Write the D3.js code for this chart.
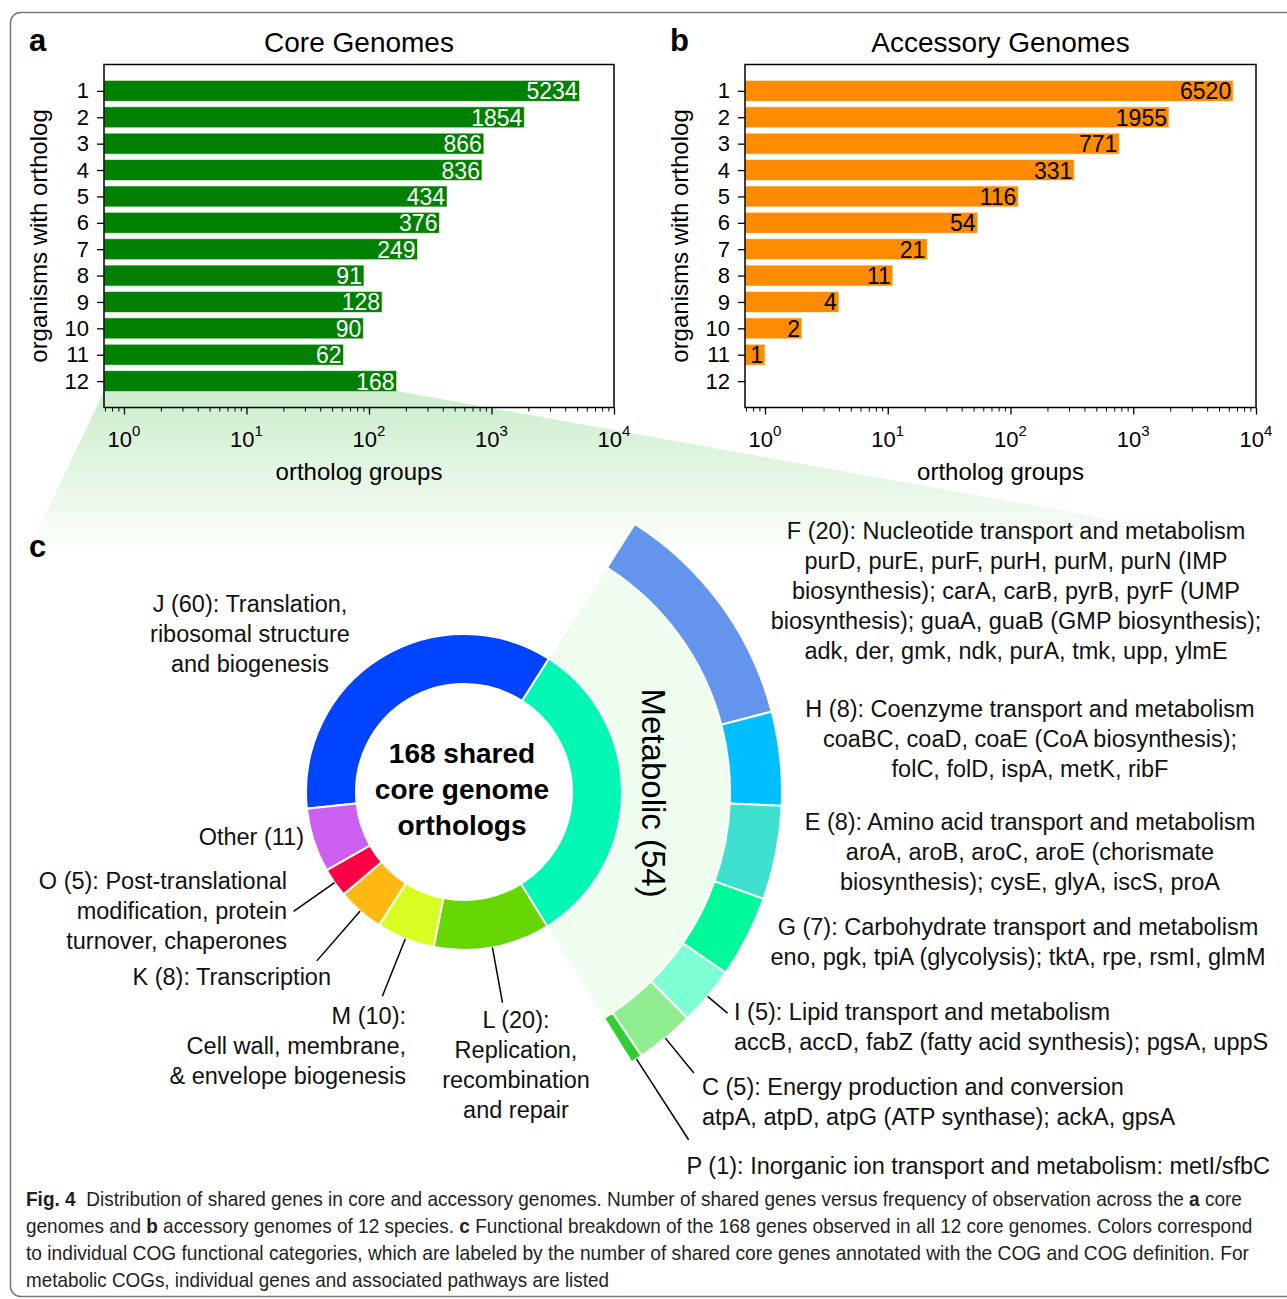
<!DOCTYPE html>
<html><head><meta charset="utf-8">
<script src="https://cdn.jsdelivr.net/npm/d3@7"></script>
<style>
body{margin:0;background:#fff}
svg{display:block}
text{font-family:"Liberation Sans",Arial,Helvetica,sans-serif}
</style>
</head><body>
<svg id="fig" width="1287" height="1299"></svg>
<script>
// ---------------- DATA ----------------
const organisms = [1,2,3,4,5,6,7,8,9,10,11,12];
const coreCounts = [5234,1854,866,836,434,376,249,91,128,90,62,168];
const accessoryCounts = [6520,1955,771,331,116,54,21,11,4,2,1,0];
const xTickExponents = [0,1,2,3,4];

const cogCategories = ["J","Metabolic","L","M","K","O","Other"];
const cogCounts = [60,54,20,10,8,5,11];
const cogColors = ["#0044ff","#00f8b4","#66d600","#d8fd22","#ffb911","#ff0044","#cc5ef0"];

const metabolicCategories = ["F","H","E","G","I","C","P"];
const metabolicCounts = [20,8,8,7,5,5,1];
const metabolicColors = ["#6495ed","#00bfff","#40e0d0","#00fa9a","#7fffd4","#90ee90","#32cd32"];

const cogLabels = {
  J: ["J (60): Translation,","ribosomal structure","and biogenesis"],
  Other: ["Other (11)"],
  O: ["O (5): Post-translational","modification, protein","turnover, chaperones"],
  K: ["K (8): Transcription"],
  M: ["M (10):","Cell wall, membrane,","& envelope biogenesis"],
  L: ["L (20):","Replication,","recombination","and repair"],
  F: ["F (20): Nucleotide transport and metabolism","purD, purE, purF, purH, purM, purN (IMP","biosynthesis); carA, carB, pyrB, pyrF (UMP","biosynthesis); guaA, guaB (GMP biosynthesis);","adk, der, gmk, ndk, purA, tmk, upp, ylmE"],
  H: ["H (8): Coenzyme transport and metabolism","coaBC, coaD, coaE (CoA biosynthesis);","folC, folD, ispA, metK, ribF"],
  E: ["E (8): Amino acid transport and metabolism","aroA, aroB, aroC, aroE (chorismate","biosynthesis); cysE, glyA, iscS, proA"],
  G: ["G (7): Carbohydrate transport and metabolism","eno, pgk, tpiA (glycolysis); tktA, rpe, rsmI, glmM"],
  I: ["I (5): Lipid transport and metabolism","accB, accD, fabZ (fatty acid synthesis); pgsA, uppS"],
  C: ["C (5): Energy production and conversion","atpA, atpD, atpG (ATP synthase); ackA, gpsA"],
  P: ["P (1): Inorganic ion transport and metabolism: metI/sfbC"]
};

// ---------------- LAYOUT ----------------
const FONT = '"Liberation Sans",Arial,Helvetica,sans-serif';
const svg = d3.select("#fig");
const plotTop = 64.5, plotBottom = 407.5;
const cx = 464, cy = 792;
const rIn = 108, rOut = 158, rMetIn = 266, rMetOut = 318;
// label placement: [anchor, x, first baseline y, leader end radius or null]
const labelLayout = {
  J:["middle",250,612,null], Other:["end",304,845,null], O:["end",287,889,208],
  K:["end",331,985,224], M:["end",406,1024,220], L:["middle",516,1028,214],
  F:["middle",1016,539,null], H:["middle",1030,717,null], E:["middle",1030,830,null],
  G:["middle",1018,935,null], I:["start",734,1020,344], C:["start",702,1095,363],
  P:["end",1270,1174,414]
};

// outer border
svg.append("rect").attr("x",10.5).attr("y",12.5).attr("width",1300).attr("height",1284)
  .attr("rx",10).attr("fill","none").attr("stroke","#777").attr("stroke-width",1.5);

// ---------------- PANELS a / b ----------------
const panels = [
  {counts:coreCounts, fill:"#008000", txt:"#fff", left:104, right:614, title:"Core Genomes", letter:"a", letterX:29},
  {counts:accessoryCounts, fill:"#ff8c00", txt:"#000", left:745, right:1256, title:"Accessory Genomes", letter:"b", letterX:670}
];
const xDomain = [Math.pow(10,-0.163), 1e4];
const yScale = d3.scaleLinear().domain([0,13]).range([plotTop, plotBottom]);

// zoom wedge (from bar 12 of core to panel c)
const xCore = d3.scaleLog().domain(xDomain).range([panels[0].left, panels[0].right]);
const defs = svg.append("defs");
const grad = defs.append("linearGradient").attr("id","wedgeGrad").attr("gradientUnits","userSpaceOnUse")
  .attr("x1",0).attr("y1",391).attr("x2",0).attr("y2",551);
grad.append("stop").attr("offset",0).attr("stop-color","#cbedcb");
grad.append("stop").attr("offset",0.75).attr("stop-color","#effaef");
grad.append("stop").attr("offset",1).attr("stop-color","#ffffff");
const wTopY = yScale(12)+10;
const wRight = xCore(coreCounts[11]);
svg.append("path")
  .attr("d", `M${panels[0].left},${wTopY} L${wRight},${wTopY} L1287,551 L28,551 Z`)
  .attr("fill","url(#wedgeGrad)");

panels.forEach(p => {
  const x = d3.scaleLog().domain(xDomain).range([p.left, p.right]);
  const g = svg.append("g");
  const data = organisms.map((o,i)=>({o, v:p.counts[i]})).filter(d=>d.v>0);
  g.selectAll("rect.bar").data(data).join("rect").attr("class","bar")
    .attr("x",p.left).attr("y",d=>yScale(d.o)-10.5).attr("width",d=>x(d.v)-p.left).attr("height",21)
    .attr("fill",p.fill).attr("stroke","#ffffff").attr("stroke-opacity",0.6).attr("stroke-width",1);
  g.selectAll("text.val").data(data).join("text").attr("class","val")
    .attr("x",d=>x(d.v)-2).attr("y",d=>yScale(d.o)+8.5).attr("text-anchor","end")
    .attr("font-size",23).attr("fill",p.txt).text(d=>d.v);
  // frame
  g.append("rect").attr("x",p.left).attr("y",plotTop).attr("width",p.right-p.left).attr("height",plotBottom-plotTop)
    .attr("fill","none").attr("stroke","#000").attr("stroke-width",1.5);
  // y axis
  const ya = g.append("g").attr("transform",`translate(${p.left},0)`)
    .call(d3.axisLeft(yScale).tickValues(organisms).tickSize(7).tickPadding(8));
  ya.select(".domain").remove();
  ya.selectAll("line").attr("stroke","#000").attr("stroke-width",1.3);
  ya.selectAll("text").attr("font-size",22).attr("font-family",FONT).attr("fill","#000");
  // x axis major ticks
  const majors = xTickExponents.map(e=>Math.pow(10,e));
  const xa = g.append("g").attr("transform",`translate(0,${plotBottom})`)
    .call(d3.axisBottom(x).tickValues(majors).tickSize(7).tickFormat(""));
  xa.select(".domain").remove();
  xa.selectAll("line").attr("stroke","#000").attr("stroke-width",1.3);
  const minors = [];
  for (let e=-1; e<4; e++) for (let m=2; m<10; m++) { const v=m*Math.pow(10,e); if (v>=xDomain[0] && v<=1e4) minors.push(v); }
  const xm = g.append("g").attr("transform",`translate(0,${plotBottom})`)
    .call(d3.axisBottom(x).tickValues(minors).tickSize(4).tickFormat(""));
  xm.select(".domain").remove();
  xm.selectAll("line").attr("stroke","#000").attr("stroke-width",1);
  // tick labels 10^n
  xTickExponents.forEach(e => {
    const t = g.append("text").attr("x",x(Math.pow(10,e))).attr("y",447).attr("text-anchor","middle")
      .attr("font-size",22).attr("fill","#000");
    t.append("tspan").text("10");
    t.append("tspan").attr("dy",-11).attr("font-size",15).text(e);
  });
  // axis labels
  g.append("text").attr("x",(p.left+p.right)/2).attr("y",480).attr("text-anchor","middle")
    .attr("font-size",24).text("ortholog groups");
  g.append("text").attr("transform",`translate(${p.left-57},${(plotTop+plotBottom)/2}) rotate(-90)`)
    .attr("text-anchor","middle").attr("font-size",24).text("organisms with ortholog");
  g.append("text").attr("x",(p.left+p.right)/2).attr("y",52).attr("text-anchor","middle")
    .attr("font-size",28).text(p.title);
  g.append("text").attr("x",p.letterX).attr("y",51).attr("font-size",31).attr("font-weight","bold").text(p.letter);
});

// ---------------- PANEL c ----------------
svg.append("text").attr("x",29).attr("y",557).attr("font-size",31).attr("font-weight","bold").text("c");
const deg = Math.PI/180;
const total = d3.sum(cogCounts);
const metIdx = cogCategories.indexOf("Metabolic");
const startAngle = 32.5*deg - cogCounts.slice(0,metIdx).reduce((a,b)=>a+b,0)/total*2*Math.PI;
const pie = d3.pie().sort(null).startAngle(startAngle).endAngle(startAngle+2*Math.PI);
const cogArcs = pie(cogCounts).map((a,i)=>Object.assign(a,{cat:cogCategories[i]}));
const met = cogArcs[metIdx];
const gc = svg.append("g").attr("transform",`translate(${cx},${cy})`);

// light expansion wedge
gc.append("path").attr("d", d3.arc().innerRadius(rOut-2).outerRadius(rMetIn)
  .startAngle(met.startAngle).endAngle(met.endAngle)())
  .attr("fill","#effdef").attr("stroke","#fff").attr("stroke-width",1.5);

const arcMain = d3.arc().innerRadius(rIn).outerRadius(rOut);
gc.selectAll("path.cog").data(cogArcs).join("path").attr("class","cog")
  .attr("d",arcMain).attr("fill",(d,i)=>cogColors[i]).attr("stroke","#fff").attr("stroke-width",2);

const metPie = d3.pie().sort(null).startAngle(met.startAngle).endAngle(met.endAngle);
const metArcs = metPie(metabolicCounts).map((a,i)=>Object.assign(a,{cat:metabolicCategories[i]}));
const arcMet = d3.arc().innerRadius(rMetIn).outerRadius(rMetOut);
gc.selectAll("path.met").data(metArcs).join("path").attr("class","met")
  .attr("d",arcMet).attr("fill",(d,i)=>metabolicColors[i]).attr("stroke","#fff").attr("stroke-width",2);

// Metabolic text
const metMid = (met.startAngle+met.endAngle)/2;
gc.append("text").attr("transform",`translate(${178*Math.sin(metMid)},${-178*Math.cos(metMid)}) rotate(90)`)
  .attr("text-anchor","middle").attr("font-size",33).attr("fill","#000").text(`Metabolic (${cogCounts[metIdx]})`);

// center text
["168 shared","core genome","orthologs"].forEach((s,i)=>{
  svg.append("text").attr("x",cx-2).attr("y",763+i*36).attr("text-anchor","middle")
    .attr("font-size",28).attr("font-weight","bold").text(s);
});

// leader lines + labels
const allArcs = {};
cogArcs.forEach(a=>allArcs[a.cat]={a, r0:rOut});
metArcs.forEach(a=>allArcs[a.cat]={a, r0:rMetOut});
Object.keys(cogLabels).forEach(k=>{
  const [anchor, lx, ly, rEnd] = labelLayout[k];
  if (rEnd !== null) {
    const info = allArcs[k];
    const m = (info.a.startAngle+info.a.endAngle)/2;
    gc.append("line")
      .attr("x1",info.r0*Math.sin(m)).attr("y1",-info.r0*Math.cos(m))
      .attr("x2",rEnd*Math.sin(m)).attr("y2",-rEnd*Math.cos(m))
      .attr("stroke","#000").attr("stroke-width",1.5);
  }
  const t = svg.append("text").attr("text-anchor",anchor).attr("font-size",23.5).attr("fill","#111");
  cogLabels[k].forEach((line,i)=>{
    t.append("tspan").attr("x",lx).attr("y",ly+i*30).text(line);
  });
});

// ---------------- CAPTION ----------------
const captionLines = [
  {parts:[["Fig. 4",true],["  Distribution of shared genes in core and accessory genomes. Number of shared genes versus frequency of observation across the ",false],["a",true],[" core",false]], len:1217},
  {parts:[["genomes and ",false],["b",true],[" accessory genomes of 12 species. ",false],["c",true],[" Functional breakdown of the 168 genes observed in all 12 core genomes. Colors correspond",false]], len:1227},
  {parts:[["to individual COG functional categories, which are labeled by the number of shared core genes annotated with the COG and COG definition. For",false]], len:1224},
  {parts:[["metabolic COGs, individual genes and associated pathways are listed",false]], len:583}
];
captionLines.forEach((ln,i)=>{
  const g = svg.append("g");
  const t = g.append("text").attr("x",0).attr("y",0).attr("font-size",20).attr("fill","#231f20")
    .style("white-space","pre");
  ln.parts.forEach(([s,b])=>t.append("tspan").attr("font-weight",b?"bold":"normal").text(s));
  const natural = t.node().getComputedTextLength();
  const sx = ln.len / natural;
  g.attr("transform",`translate(26,${1206+i*27}) scale(${sx},1)`);
});
</script>
</body></html>
